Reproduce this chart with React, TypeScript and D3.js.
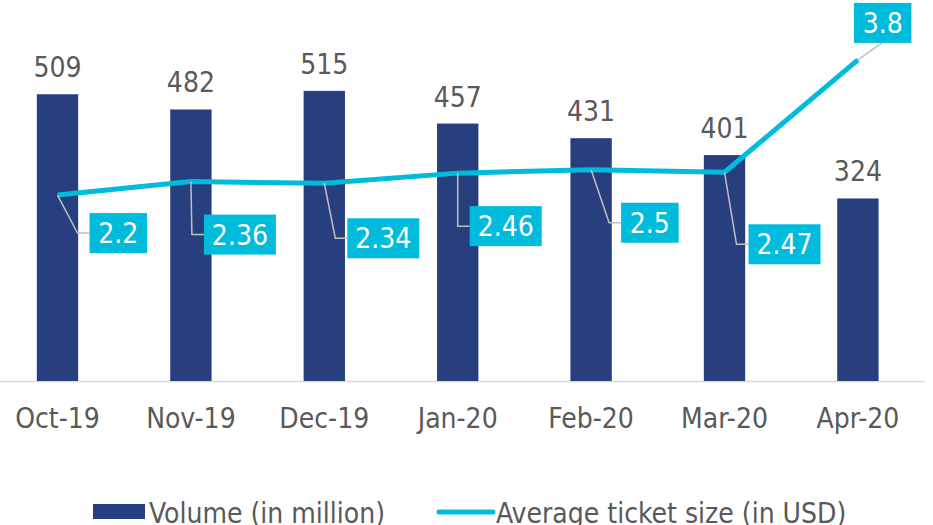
import React from 'react';
import * as d3 from 'd3';

const months = ['Oct-19', 'Nov-19', 'Dec-19', 'Jan-20', 'Feb-20', 'Mar-20', 'Apr-20'];
const volume = [509, 482, 515, 457, 431, 401, 324];
const ticketSize = [2.2, 2.36, 2.34, 2.46, 2.5, 2.47, 3.8];
// where each ticket-size label box sits relative to its point (dx, dy of box top-left)
const labelOffsets = [
  [32, 18], [13, 33], [23, 35], [12, 33], [30, 33], [24, 52], [-4, -57],
];

const W = 933;
const H = 525;
const BAR = '#283F7F';
const LINE = '#00BCDC';
const TEXT = '#595959';
const FONT = '"DejaVu Sans Condensed", "DejaVu Sans", sans-serif';

const App = () => {
  const x = d3.scaleBand<string>().domain(months).range([-9.2, 924.6]).padding(0);
  const barW = x.bandwidth() * 0.31;
  const cx = (m: string) => (x(m) as number) + x.bandwidth() / 2;

  const yBar = d3.scaleLinear().domain([0, 600]).range([381, 43]);
  const yLine = d3.scaleLinear().domain([0, 4]).range([381, 43]);

  const line = d3.line<number>()
    .x((_, i) => cx(months[i]))
    .y(d => yLine(d));

  const boxH = 40;
  const charW = 14.5;

  return (
    <div style={{ position: 'absolute', left: 0, top: 0 }}>
      <svg width={W} height={H} style={{ display: 'block', background: '#fff' }} fontFamily={FONT}>
        <line x1={0} x2={925} y1={381.5} y2={381.5} stroke="#D9D9D9" strokeWidth={1.5} />

        {volume.map((v, i) => (
          <g key={months[i]}>
            <rect
              x={cx(months[i]) - barW / 2}
              y={yBar(v)}
              width={barW}
              height={yBar(0) - yBar(v)}
              fill={BAR}
            />
            <text x={cx(months[i])} y={yBar(v) - 17} textAnchor="middle" fontSize={28} fill={TEXT}>
              {v}
            </text>
          </g>
        ))}

        <path d={line(ticketSize) || ''} fill="none" stroke={LINE} strokeWidth={5} strokeLinejoin="round" />

        {ticketSize.map((v, i) => {
          const px = cx(months[i]);
          const py = yLine(v);
          const [dx, dy] = labelOffsets[i];
          const label = String(v);
          const bw = label.length * charW + 14;
          const bx = px + dx;
          const by = py + dy;
          const above = dy < 0;
          const leader = above
            ? `M${px},${py} L${bx + 28},${by + boxH}`
            : `M${px},${py} L${bx - 12},${by + boxH / 2} L${bx},${by + boxH / 2}`;
          return (
            <g key={'l' + i}>
              <path d={leader} fill="none" stroke="#BFBFBF" strokeWidth={1.5} />
              <rect x={bx} y={by} width={bw} height={boxH} fill={LINE} />
              <text x={bx + bw / 2} y={by + boxH / 2 + 10} textAnchor="middle" fontSize={28} fill="#fff">
                {label}
              </text>
            </g>
          );
        })}

        {months.map(m => (
          <text key={'t' + m} x={cx(m)} y={428} textAnchor="middle" fontSize={28} fill={TEXT}>
            {m}
          </text>
        ))}

        <rect x={93} y={504} width={52} height={15} fill={BAR} />
        <text x={149} y={523} fontSize={28} fill={TEXT}>Volume (in million)</text>
        <line x1={439} x2={493} y1={512} y2={512} stroke={LINE} strokeWidth={5} strokeLinecap="round" />
        <text x={496} y={523} fontSize={28} fill={TEXT}>Average ticket size (in USD)</text>
      </svg>
    </div>
  );
};

export default App;
